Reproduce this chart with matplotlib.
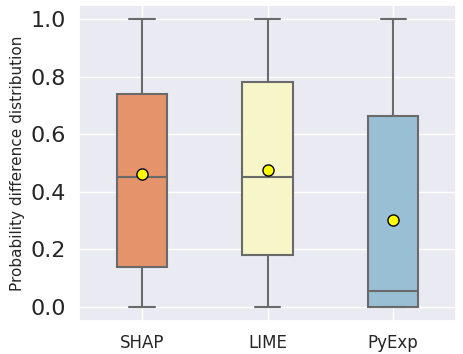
import matplotlib
matplotlib.use('Agg')
import matplotlib.pyplot as plt
import seaborn as sns

methods = ['SHAP', 'LIME', 'PyExp']
whisker_low = [0.0, 0.0, 0.0]
q1 = [0.138, 0.179, 0.0]
medians = [0.452, 0.451, 0.053]
q3 = [0.740, 0.782, 0.665]
whisker_high = [1.0, 1.0, 1.0]
means = [0.461, 0.476, 0.303]
colors = ['#e4936a', '#f7f6c8', '#98bfd3']

sns.set_theme(style='darkgrid')

fig, ax = plt.subplots(figsize=(4.63, 3.54), dpi=100)

stats = []
for i, name in enumerate(methods):
    stats.append(dict(label=name, whislo=whisker_low[i], q1=q1[i], med=medians[i],
                      q3=q3[i], whishi=whisker_high[i], mean=means[i], fliers=[]))

line_col = '#6a6a6a'
bp = ax.bxp(stats, positions=range(len(methods)), widths=0.4, patch_artist=True,
            showmeans=True,
            boxprops=dict(edgecolor=line_col, linewidth=1.5),
            medianprops=dict(color=line_col, linewidth=1.5),
            whiskerprops=dict(color=line_col, linewidth=1.5),
            capprops=dict(color=line_col, linewidth=1.5),
            meanprops=dict(marker='o', markerfacecolor='yellow', markeredgecolor='black',
                           markersize=8, markeredgewidth=1))
for patch, c in zip(bp['boxes'], colors):
    patch.set_facecolor(c)
for cap in bp['caps']:
    x = cap.get_xdata()
    mid = (x[0] + x[1]) / 2
    cap.set_xdata([mid - 0.1, mid + 0.1])

ax.set_xlim(-0.5, 2.5)
ax.set_ylim(-0.05, 1.05)
ax.set_yticks([0.0, 0.2, 0.4, 0.6, 0.8, 1.0])
ax.tick_params(axis='y', labelsize=16)
ax.tick_params(axis='x', labelsize=12)
ax.set_ylabel('Probability difference distribution', fontsize=11, labelpad=4)

plt.subplots_adjust(left=0.171, right=0.985, top=0.986, bottom=0.093)
plt.savefig('out.png', dpi=100)
